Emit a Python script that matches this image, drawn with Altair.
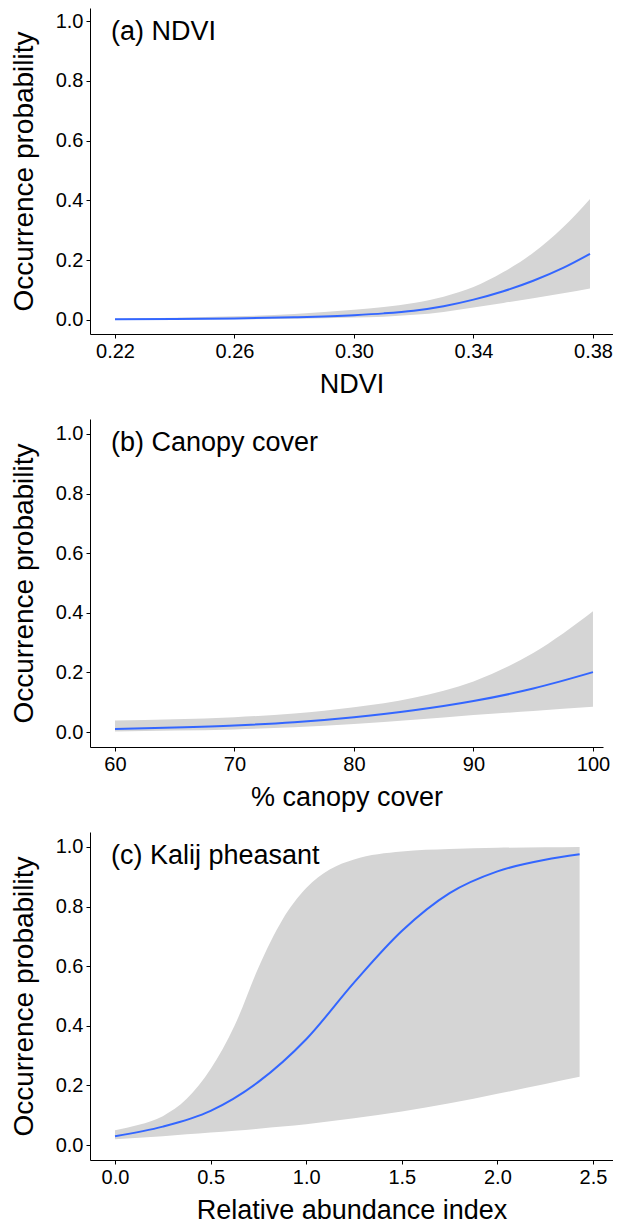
import altair as alt
import pandas as pd

FONT = "Liberation Sans, Arial, Helvetica, sans-serif"

# ---------------- Panel (a) NDVI ----------------
a_x = [0.22, 0.24, 0.26, 0.28, 0.30, 0.31, 0.32, 0.33, 0.34, 0.35, 0.36, 0.37, 0.379]
a_fit = [0.002, 0.003, 0.005, 0.009, 0.016, 0.022, 0.031, 0.046, 0.068, 0.096, 0.131, 0.174, 0.221]
a_upper = [0.004, 0.007, 0.012, 0.020, 0.034, 0.043, 0.057, 0.078, 0.110, 0.160, 0.225, 0.310, 0.405]
a_lower = [0.000, 0.001, 0.002, 0.004, 0.008, 0.011, 0.017, 0.027, 0.042, 0.057, 0.073, 0.089, 0.105]
a_ticks = [0.22, 0.26, 0.30, 0.34, 0.38]

# ---------------- Panel (b) Canopy cover ----------------
b_x = [60, 65, 70, 75, 80, 85, 90, 95, 100]
b_fit = [0.010, 0.015, 0.022, 0.033, 0.050, 0.073, 0.104, 0.146, 0.201]
b_upper = [0.039, 0.043, 0.050, 0.062, 0.083, 0.115, 0.170, 0.265, 0.405]
b_lower = [0.002, 0.005, 0.009, 0.016, 0.027, 0.041, 0.057, 0.071, 0.085]
b_ticks = [60, 70, 80, 90, 100]

# ---------------- Panel (c) Kalij pheasant ----------------
c_x = [0.0, 0.25, 0.5, 0.75, 1.0, 1.25, 1.5, 1.75, 2.0, 2.25, 2.43]
c_fit = [0.030, 0.062, 0.115, 0.212, 0.355, 0.545, 0.718, 0.845, 0.918, 0.957, 0.975]
c_band_x = [0.0, 0.125, 0.25, 0.375, 0.5, 0.625, 0.75, 0.875, 1.0, 1.125, 1.25, 1.5, 1.75, 2.0, 2.25, 2.43]
c_upper = [0.050, 0.068, 0.097, 0.155, 0.255, 0.400, 0.595, 0.755, 0.862, 0.925, 0.958, 0.985, 0.993, 0.997, 0.999, 1.000]
c_lower = [0.020, 0.025, 0.030, 0.036, 0.042, 0.048, 0.055, 0.062, 0.070, 0.080, 0.090, 0.113, 0.140, 0.172, 0.205, 0.229]
c_ticks = [0.0, 0.5, 1.0, 1.5, 2.0, 2.5]

y_ticks = [0.0, 0.2, 0.4, 0.6, 0.8, 1.0]
y_title = "Occurrence probability"


def panel(bx, lo, hi, lx, fit, xdom, xticks, xfmt, xtitle, label, width, ydom, height):
    band_df = pd.DataFrame({"x": bx, "lower": lo, "upper": hi})
    line_df = pd.DataFrame({"x": lx, "fit": fit})
    xs = alt.Scale(domain=xdom, nice=False, zero=False)
    ys = alt.Scale(domain=ydom, nice=False, zero=False)
    xa = alt.Axis(title=xtitle, values=xticks, format=xfmt, labelFlush=False,
                  labelOverlap=False, titlePadding=10, titleFontSize=27)
    ya = alt.Axis(title=y_title, values=y_ticks, format=".1f", labelOverlap=False,
                  titlePadding=17, titleFontSize=28)
    band = alt.Chart(band_df).mark_area(color="#D5D5D5", interpolate="monotone").encode(
        x=alt.X("x:Q", scale=xs, axis=xa),
        y=alt.Y("lower:Q", scale=ys, axis=ya),
        y2="upper:Q",
    )
    line = alt.Chart(line_df).mark_line(color="#3366FF", strokeWidth=2,
                                        interpolate="monotone").encode(
        x=alt.X("x:Q", scale=xs, axis=xa),
        y=alt.Y("fit:Q", scale=ys, axis=ya),
    )
    txt = alt.Chart(pd.DataFrame({"t": [label]})).mark_text(
        align="left", baseline="middle", fontSize=27, font=FONT, color="black"
    ).encode(x=alt.value(21), y=alt.value(24), text="t:N")
    return alt.layer(band, line, txt).properties(width=width, height=height)


pa = panel(a_x, a_lower, a_upper, a_x, a_fit, [0.21163, 0.38670], a_ticks, ".2f",
           "NDVI", "(a) NDVI", 523, [-0.047, 1.0436], 326)
pb = panel(b_x, b_lower, b_upper, b_x, b_fit, [57.908, 100.84], b_ticks, "d",
           "% canopy cover", "(b) Canopy cover", 513, [-0.05, 1.05], 328)
pc = panel(c_band_x, c_lower, c_upper, c_x, c_fit, [-0.1308, 2.6046], c_ticks, ".1f",
           "Relative abundance index", "(c) Kalij pheasant", 523, [-0.05, 1.05], 328)

chart = alt.vconcat(pa, pb, pc, spacing=85, bounds="flush").properties(
    padding={"left": 2, "top": 0, "right": 0, "bottom": 0},
    background="white",
).configure_view(strokeWidth=0).configure_axis(
    grid=False,
    domainColor="#000000",
    domainWidth=1,
    tickColor="#000000",
    tickSize=4,
    tickWidth=1,
    labelFont=FONT,
    labelFontSize=20,
    labelColor="#000000",
    labelPadding=3,
    titleFont=FONT,
    titleFontWeight="normal",
    titleColor="#000000",
)

chart.save("out.html", embed_options={"renderer": "svg", "actions": False})
